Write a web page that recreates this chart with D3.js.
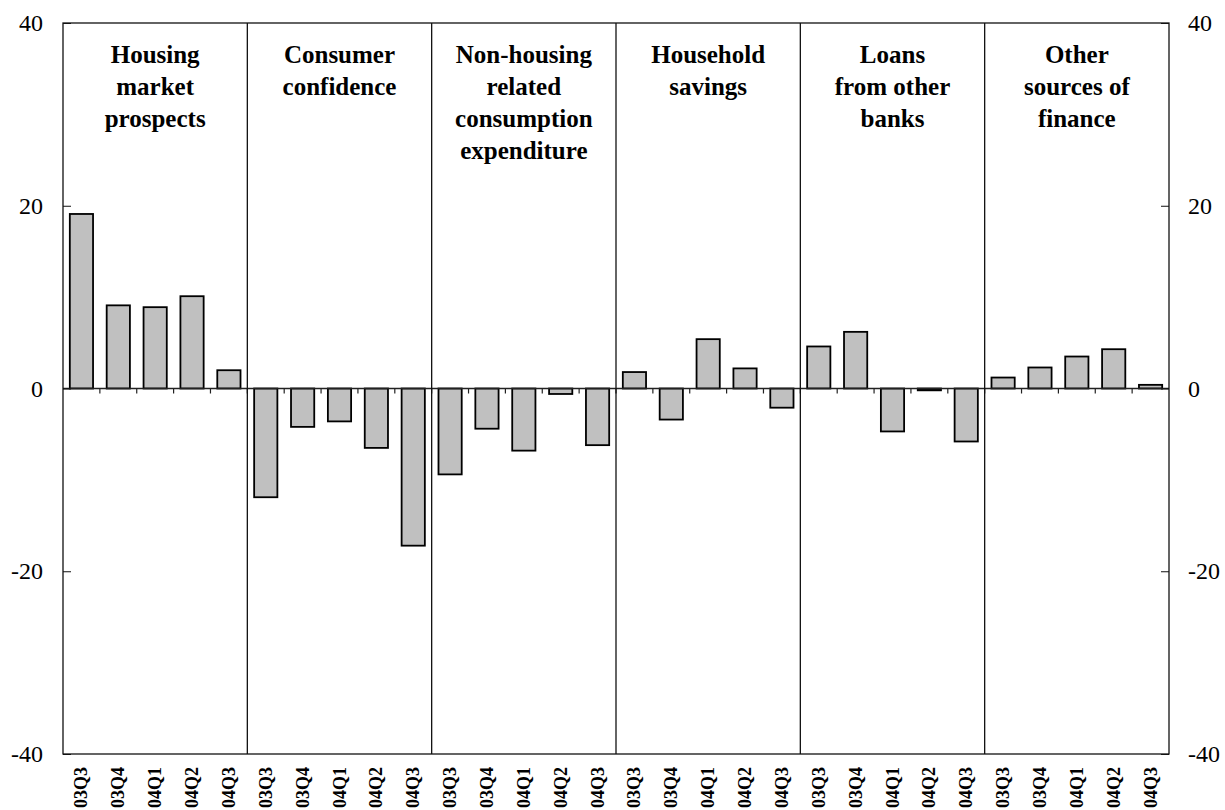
<!DOCTYPE html>
<html>
<head>
<meta charset="utf-8">
<script src="https://cdn.jsdelivr.net/npm/d3@7"></script>
<style>
  body { margin: 0; background: #fff; }
  svg { display: block; font-family: 'Liberation Serif', 'Times New Roman', serif; }
</style>
</head>
<body>
<svg id="chart" width="1225" height="810"></svg>
<script>
// quarters shown under every panel
var quarters = ['03Q3', '03Q4', '04Q1', '04Q2', '04Q3'];

// panel titles, one array entry per line
var group_titles = [
     ['Housing', 'market', 'prospects'],
     ['Consumer', 'confidence'],
     ['Non-housing', 'related', 'consumption', 'expenditure'],
     ['Household', 'savings'],
     ['Loans', 'from other', 'banks'],
     ['Other', 'sources of', 'finance']
];

// net percentage per quarter
var housing_market = [19.1, 9.1, 8.9, 10.1, 2.0];
var consumer_confidence = [-11.9, -4.2, -3.6, -6.5, -17.2];
var non_housing = [-9.4, -4.4, -6.8, -0.6, -6.2];
var household_savings = [1.8, -3.4, 5.4, 2.2, -2.1];
var other_banks = [4.6, 6.2, -4.7, -0.2, -5.8];
var other_finance = [1.2, 2.3, 3.5, 4.3, 0.4];

var y_ticks = [-40, -20, 0, 20, 40];

var series = [housing_market, consumer_confidence, non_housing,
     household_savings, other_banks, other_finance];

var data = [];
series.forEach(function (values, g) {
     values.forEach(function (v, i) {
          data.push({ key: g + '-' + quarters[i], group: g, quarter: quarters[i], value: v });
     });
});

var svg = d3.select('#chart');
var width = 1225, height = 810;
var margin = { top: 23, bottom: 56, left: 63, right: 56 };
var inner_width = width - margin.left - margin.right;
var inner_height = height - margin.top - margin.bottom;

var g = svg.append('g')
     .attr('transform', 'translate(' + margin.left + ',' + margin.top + ')');

var x_cat = d3.scaleBand()
     .domain(data.map(d => d.key))
     .range([0, inner_width])
     .padding(0);

var x_bar = d3.scaleBand()
     .domain(data.map(d => d.key))
     .range([0, inner_width])
     .paddingInner(0.37)
     .paddingOuter(0.185);

var y_scale = d3.scaleLinear()
     .domain([-40, 40])
     .range([inner_height, 0]);

// bars
g.append('g').selectAll('rect')
     .data(data)
     .enter()
     .append('rect')
     .attr('x', d => x_bar(d.key))
     .attr('width', x_bar.bandwidth())
     .attr('y', d => y_scale(Math.max(0, d.value)))
     .attr('height', d => Math.abs(y_scale(d.value) - y_scale(0)))
     .attr('fill', '#c0c0c0')
     .attr('stroke', '#000')
     .attr('stroke-width', 1.8);

// zero line with small ticks hanging at category boundaries
g.append('line')
     .attr('x1', 0)
     .attr('x2', inner_width)
     .attr('y1', y_scale(0))
     .attr('y2', y_scale(0))
     .attr('stroke', '#222')
     .attr('stroke-width', 1.6);

g.append('g').selectAll('line')
     .data(data.slice(1))
     .enter()
     .append('line')
     .attr('x1', d => x_cat(d.key))
     .attr('x2', d => x_cat(d.key))
     .attr('y1', y_scale(0))
     .attr('y2', y_scale(0) + 5)
     .attr('stroke', '#222')
     .attr('stroke-width', 1.2);

// panel dividers
g.append('g').selectAll('line')
     .data(data.filter(d => d.group > 0 && d.quarter === quarters[0]))
     .enter()
     .append('line')
     .attr('x1', d => x_cat(d.key))
     .attr('x2', d => x_cat(d.key))
     .attr('y1', 0)
     .attr('y2', inner_height)
     .attr('stroke', '#111')
     .attr('stroke-width', 1.3);

// frame
g.append('rect')
     .attr('x', 0)
     .attr('y', 0)
     .attr('width', inner_width)
     .attr('height', inner_height)
     .attr('fill', 'none')
     .attr('stroke', '#111')
     .attr('stroke-width', 1.3);

// y axes on both sides
var left_axis = d3.axisRight(y_scale).tickValues(y_ticks).tickSize(8).tickFormat('');
var right_axis = d3.axisLeft(y_scale).tickValues(y_ticks).tickSize(8).tickFormat('');
g.append('g').call(left_axis).call(a => a.select('.domain').remove())
     .selectAll('line').attr('stroke', '#111');
g.append('g').attr('transform', 'translate(' + inner_width + ',0)')
     .call(right_axis).call(a => a.select('.domain').remove())
     .selectAll('line').attr('stroke', '#111');

g.append('g').selectAll('text')
     .data(y_ticks)
     .enter()
     .append('text')
     .attr('x', -20)
     .attr('y', d => y_scale(d) + 8)
     .attr('text-anchor', 'end')
     .style('font-size', '24px')
     .text(d => d);

g.append('g').selectAll('text')
     .data(y_ticks)
     .enter()
     .append('text')
     .attr('x', inner_width + 19)
     .attr('y', d => y_scale(d) + 8)
     .attr('text-anchor', 'start')
     .style('font-size', '24px')
     .text(d => d);

// rotated quarter labels
g.append('g').selectAll('text')
     .data(data)
     .enter()
     .append('text')
     .attr('transform', d => 'translate(' + (x_cat(d.key) + x_cat.bandwidth() / 2 + 6) + ',' + (inner_height + 13) + ') rotate(-90)')
     .attr('text-anchor', 'end')
     .style('font-size', '18px')
     .style('font-weight', 'bold')
     .text(d => d.quarter);

// panel titles
group_titles.forEach(function (lines, gi) {
     var keys = data.filter(d => d.group === gi).map(d => d.key);
     var cx = (x_cat(keys[0]) + x_cat(keys[keys.length - 1]) + x_cat.bandwidth()) / 2;
     var t = g.append('text')
          .attr('x', cx)
          .attr('y', 40)
          .attr('text-anchor', 'middle')
          .style('font-size', '25px')
          .style('font-weight', 'bold');
     lines.forEach(function (line, li) {
          t.append('tspan')
               .attr('x', cx)
               .attr('dy', li === 0 ? 0 : 32)
               .text(line);
     });
});
</script>
</body>
</html>
